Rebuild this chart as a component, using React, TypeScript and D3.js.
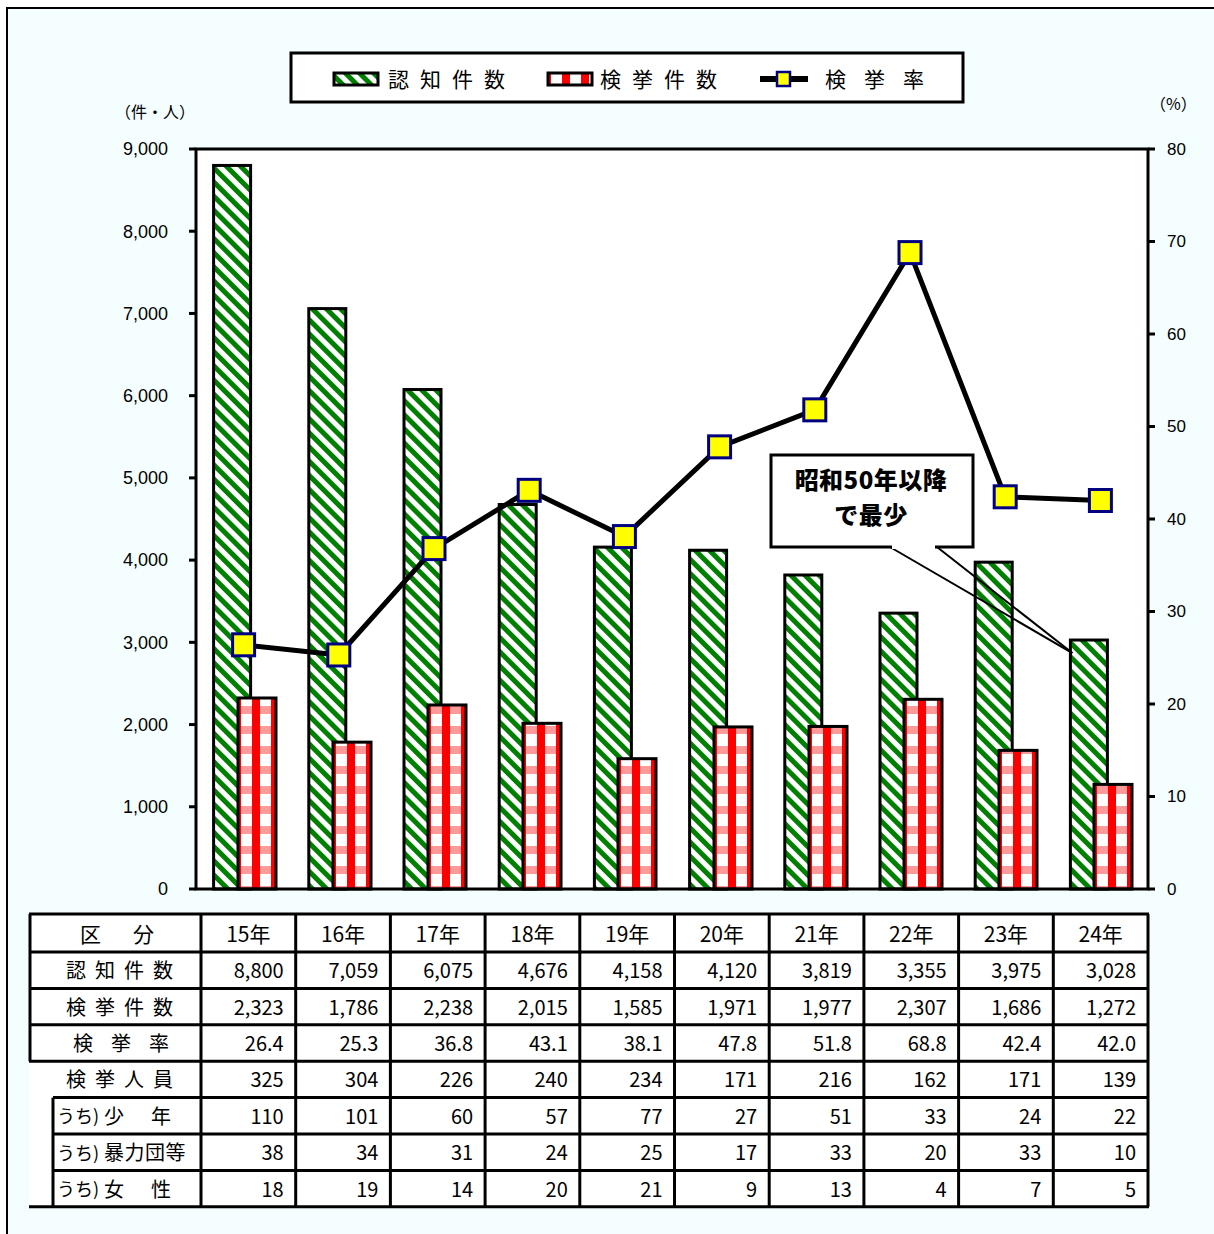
import React from 'react';
import * as d3 from 'd3';

const years = ['15年', '16年', '17年', '18年', '19年', '20年', '21年', '22年', '23年', '24年'];
const ninchi = [8800, 7059, 6075, 4676, 4158, 4120, 3819, 3355, 3975, 3028];
const kenkyo = [2323, 1786, 2238, 2015, 1585, 1971, 1977, 2307, 1686, 1272];
const rate = [26.4, 25.3, 36.8, 43.1, 38.1, 47.8, 51.8, 68.8, 42.4, 42.0];
const jinin = [325, 304, 226, 240, 234, 171, 216, 162, 171, 139];
const shonen = [110, 101, 60, 57, 77, 27, 51, 33, 24, 22];
const boryoku = [38, 34, 31, 24, 25, 17, 33, 20, 33, 10];
const josei = [18, 19, 14, 20, 21, 9, 13, 4, 7, 5];

const leftTicks = [0, 1000, 2000, 3000, 4000, 5000, 6000, 7000, 8000, 9000];
const rightTicks = [0, 10, 20, 30, 40, 50, 60, 70, 80];

const W = 1214;
const H = 1234;
const plot = { left: 196, right: 1148, top: 149, bottom: 889 };
const jp = '"Noto Sans CJK JP", "Noto Sans", sans-serif';
const num = '"Liberation Sans", Arial, sans-serif';

const App = () => {
  const x = d3.scaleBand<string>().domain(years).range([plot.left, plot.right]);
  const yL = d3.scaleLinear().domain([0, 9000]).range([plot.bottom, plot.top]);
  const yR = d3.scaleLinear().domain([0, 80]).range([plot.bottom, plot.top]);
  const bw = x.bandwidth();
  const cx = (i: number) => (x(years[i]) as number) + bw / 2;

  const line = d3.line<number>()
    .x((_, i) => cx(i))
    .y(d => yR(d));

  // table layout
  const tCol = d3.scaleBand<string>().domain(years).range([201, 1148]);
  const tTop = 914;
  const headH = 38;
  const rowH = 36.4;
  const rowY = (r: number) => (r === 0 ? tTop : tTop + headH + (r - 1) * rowH);
  const fmt = d3.format(',');
  const rows: { vals: number[]; f: (v: number) => string }[] = [
    { vals: ninchi, f: fmt },
    { vals: kenkyo, f: fmt },
    { vals: rate, f: d3.format('.1f') },
    { vals: jinin, f: fmt },
    { vals: shonen, f: fmt },
    { vals: boryoku, f: fmt },
    { vals: josei, f: fmt },
  ];

  // callout anchored to the 24年 bar
  const tipX = cx(9) - 28;
  const tipY = yL(ninchi[9]) + 13;

  return (
    <svg width={W} height={H} style={{ position: 'absolute', left: 0, top: 0 }}>
      <defs>
        <pattern id="stripe" width="10" height="10" patternUnits="userSpaceOnUse" patternTransform="rotate(-45)">
          <rect width="10" height="10" fill="#fff" />
          <rect width="5" height="10" fill="#008000" />
        </pattern>
        <pattern id="check" width="19" height="20" patternUnits="userSpaceOnUse">
          <rect width="19" height="20" fill="#fff" />
          <rect y="6" width="19" height="8" fill="#ff9a9a" />
          <rect x="0" width="3" height="20" fill="#ff0000" />
          <rect x="14" width="5" height="20" fill="#ff0000" />
        </pattern>
      </defs>

      {/* background and frame */}
      <rect x={0} y={0} width={W} height={H} fill="#fff" />
      <rect x={8} y={9} width={W} height={H} fill="#f4fdff" />
      <path d={`M7,${H}V8H${W}`} fill="none" stroke="#000" strokeWidth={2} />

      {/* plot area */}
      <rect x={plot.left} y={plot.top} width={plot.right - plot.left} height={plot.bottom - plot.top} fill="#fff" />

      {/* bars */}
      {ninchi.map((v, i) => (
        <rect key={'g' + i} x={cx(i) - 30} y={yL(v)} width={37} height={yL(0) - yL(v)}
          fill="url(#stripe)" stroke="#000" strokeWidth={3} />
      ))}
      {kenkyo.map((v, i) => (
        <g key={'r' + i} transform={`translate(${Math.round(cx(i) - 6)},0)`}>
          <rect x={0} y={yL(v)} width={38} height={yL(0) - yL(v)}
            fill="url(#check)" stroke="#000" strokeWidth={3} />
        </g>
      ))}

      {/* plot frame + axes */}
      <rect x={plot.left} y={plot.top} width={plot.right - plot.left} height={plot.bottom - plot.top}
        fill="none" stroke="#000" strokeWidth={3} />
      {leftTicks.map(t => (
        <g key={'l' + t}>
          <line x1={plot.left - 7} x2={plot.left} y1={yL(t)} y2={yL(t)} stroke="#000" strokeWidth={3} />
          <text x={168} y={yL(t)} dy="0.35em" textAnchor="end" fontFamily={num} fontSize={18}>{fmt(t)}</text>
        </g>
      ))}
      {rightTicks.map(t => (
        <g key={'r' + t}>
          <line x1={plot.right} x2={plot.right + 7} y1={yR(t)} y2={yR(t)} stroke="#000" strokeWidth={3} />
          <text x={1167} y={yR(t)} dy="0.35em" textAnchor="start" fontFamily={num} fontSize={17}>{t}</text>
        </g>
      ))}
      <text x={115} y={112} dy="0.35em" fontFamily={jp} fontSize={16}>（件・人）</text>
      <text x={1150} y={104} dy="0.35em" fontFamily={jp} fontSize={16}>（%）</text>

      {/* rate line */}
      <path d={line(rate) as string} fill="none" stroke="#000" strokeWidth={5} strokeLinejoin="round" />
      {rate.map((v, i) => (
        <rect key={'m' + i} x={cx(i) - 11} y={yR(v) - 11} width={22} height={22}
          fill="#ffff00" stroke="#000080" strokeWidth={3} />
      ))}

      {/* callout */}
      <rect x={771} y={455} width={202} height={92} fill="#fff" stroke="#000" strokeWidth={3} />
      <line x1={890} y1={547} x2={tipX} y2={tipY} stroke="#000" strokeWidth={2} />
      <line x1={937} y1={547} x2={tipX} y2={tipY} stroke="#000" strokeWidth={2} />
      <rect x={892} y={543} width={43} height={6} fill="#fff" />
      <text x={871} y={481} dy="0.35em" textAnchor="middle" fontFamily={jp} fontWeight={900} fontSize={24}
        letterSpacing={0.5}>昭和50年以降</text>
      <text x={871} y={516} dy="0.35em" textAnchor="middle" fontFamily={jp} fontWeight={900} fontSize={24}
        letterSpacing={0.5}>で最少</text>

      {/* legend */}
      <rect x={291} y={53} width={672} height={49} fill="#fff" stroke="#000" strokeWidth={3} />
      <rect x={334} y={73} width={44} height={12} fill="url(#stripe)" stroke="#000" strokeWidth={3} />
      <text x={388} y={80} dy="0.35em" fontFamily={jp} fontSize={21} letterSpacing={11}>認知件数</text>
      <g transform="translate(548,0)">
        <rect x={0} y={73} width={44} height={12} fill="url(#check)" stroke="#000" strokeWidth={3} />
      </g>
      <text x={600} y={80} dy="0.35em" fontFamily={jp} fontSize={21} letterSpacing={11}>検挙件数</text>
      <line x1={760} x2={808} y1={79} y2={79} stroke="#000" strokeWidth={6} />
      <rect x={777} y={72} width={13} height={14} fill="#ffff00" stroke="#000080" strokeWidth={2.5} />
      <text x={825} y={80} dy="0.35em" fontFamily={jp} fontSize={21} letterSpacing={18}>検挙率</text>

      {/* table */}
      <rect x={30} y={tTop} width={1118} height={rowY(8) - tTop} fill="#fff" />
      {years.map(yr => (
        <text key={'h' + yr} x={(tCol(yr) as number) + tCol.bandwidth() / 2} y={tTop + headH / 2 + 2} dy="0.35em"
          textAnchor="middle" fontFamily={jp} fontSize={21}>{yr}</text>
      ))}
      <text x={80} y={tTop + headH / 2 + 2} dy="0.35em" fontFamily={jp} fontSize={21} letterSpacing={32}>区分</text>
      {rows.map((r, ri) => (
        <g key={'row' + ri}>
          {r.vals.map((v, ci) => (
            <text key={ci} x={(tCol(years[ci]) as number) + tCol.bandwidth() - 12} y={rowY(ri + 1) + rowH / 2 + 1}
              dy="0.35em" textAnchor="end" fontFamily={jp} fontSize={20}>{r.f(v)}</text>
          ))}
        </g>
      ))}
      <text x={66} y={rowY(1) + rowH / 2 + 1} dy="0.35em" fontFamily={jp} fontSize={20} letterSpacing={9}>認知件数</text>
      <text x={66} y={rowY(2) + rowH / 2 + 1} dy="0.35em" fontFamily={jp} fontSize={20} letterSpacing={9}>検挙件数</text>
      <text x={73} y={rowY(3) + rowH / 2 + 1} dy="0.35em" fontFamily={jp} fontSize={20} letterSpacing={18}>検挙率</text>
      <text x={66} y={rowY(4) + rowH / 2 + 1} dy="0.35em" fontFamily={jp} fontSize={20} letterSpacing={9}>検挙人員</text>
      {['少年', '暴力団等', '女性'].map((lab, k) => (
        <g key={'u' + k}>
          <text x={57} y={rowY(5 + k) + rowH / 2 + 1} dy="0.35em" fontFamily={jp} fontSize={18}>うち</text>
          <text x={93} y={rowY(5 + k) + rowH / 2 + 1} dy="0.35em" fontFamily={jp} fontSize={18}>)</text>
          <text x={104} y={rowY(5 + k) + rowH / 2 + 1} dy="0.35em" fontFamily={jp} fontSize={20}
            letterSpacing={lab.length === 2 ? 27 : 0.5}>{lab}</text>
        </g>
      ))}
      <g stroke="#000" strokeWidth={3} fill="none">
        {[0, 1, 2, 3, 4].map(r => <line key={'hl' + r} x1={29} x2={1149} y1={rowY(r)} y2={rowY(r)} />)}
        {[5, 6, 7].map(r => <line key={'hm' + r} x1={53} x2={1149} y1={rowY(r)} y2={rowY(r)} />)}
        <line x1={29} x2={1149} y1={rowY(8)} y2={rowY(8)} />
        <line x1={30} x2={30} y1={tTop} y2={rowY(4)} />
        <line x1={53} x2={53} y1={rowY(5)} y2={rowY(8)} />
        <line x1={201} x2={201} y1={tTop} y2={rowY(8)} />
        {years.map(yr => (
          <line key={'v' + yr} x1={(tCol(yr) as number) + tCol.bandwidth()} x2={(tCol(yr) as number) + tCol.bandwidth()}
            y1={tTop} y2={rowY(8)} />
        ))}
      </g>
    </svg>
  );
};

export default App;
